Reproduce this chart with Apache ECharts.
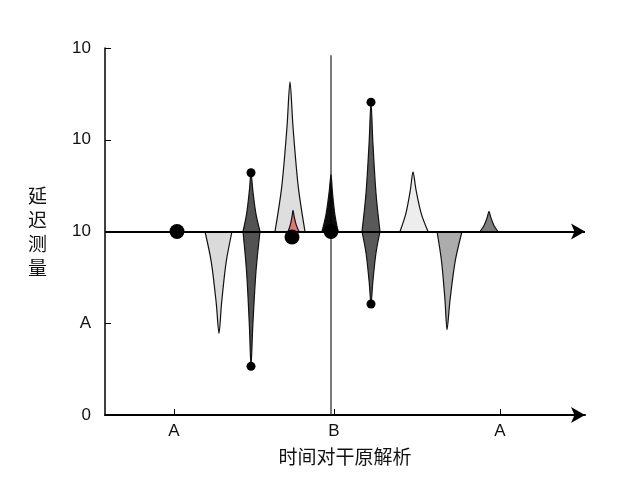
<!DOCTYPE html><html><head><meta charset="utf-8"><script src="https://cdn.jsdelivr.net/npm/echarts@6/dist/echarts.min.js"></script></head><body style="margin:0"><div id="c" style="width:640px;height:480px"></div><script>
const yTickLabels=['0','A','10','10','10'];
const xTickValues=[69,229,395];
const xTickLabels=['A','B','A'];
const base=2;
// spikes: [left, peakX, right, peakValue, color]
const spikes=[
 [100,114,127,0.89,'#d8d8d8'],
 [138,146,155,2.64,'#4a4a4a'],
 [138,146,155,0.53,'#4a4a4a'],
 [170,185,200,3.63,'#dcdcdc'],
 [183,188,194,2.23,'#e07070'],
 [217,226,233,2.62,'#000000'],
 [257,266,275,3.41,'#505050'],
 [257,266,275,1.21,'#505050'],
 [295,308,323,2.65,'#ececec'],
 [332,342,357,0.93,'#a8a8a8'],
 [375,384,393,2.22,'#777777']
];
const smallDots=[[146,2.64],[146,0.53],[266,3.41],[266,1.21]];
const bigDots=[[72,2],[187,1.94],[226,2]];
const vLine=[[226,0],[226,3.92]];
function spikeData(s){const [l,p,r,v]=s;const h=v-base;
 return [[l,base],[l+(p-l)*0.45,base+h*0.3],[p-(p-l)*0.2,base+h*0.7],[p,v],[p+(r-p)*0.2,base+h*0.7],[r-(r-p)*0.45,base+h*0.3],[r,base]];}
const series=spikes.map(s=>({type:'line',data:spikeData(s),smooth:0.3,symbol:'none',lineStyle:{color:'#111',width:1.2},
 areaStyle:{origin:base,color:s[4],opacity:0.95},z:2}));
series.push({type:'line',data:vLine,symbol:'none',lineStyle:{color:'#222',width:1.2},z:1});
series.push({type:'line',data:[[0,base],[480,base]],symbol:'none',showSymbol:false,lineStyle:{width:0},z:3,
 markLine:{silent:true,symbol:['none','arrow'],symbolSize:[12,14],lineStyle:{color:'#000',width:2,type:'solid'},label:{show:false},data:[[{coord:[0,base]},{coord:[480,base]}]]}});
series.push({type:'scatter',data:smallDots,symbolSize:9,itemStyle:{color:'#000',opacity:1},z:5});
series.push({type:'scatter',data:bigDots,symbolSize:15,itemStyle:{color:'#000',opacity:1},z:5});
const ch=echarts.init(document.getElementById('c'));
ch.setOption({animation:false,backgroundColor:'#fff',
 grid:{left:105,right:55,top:48,bottom:65},
 xAxis:{type:'value',min:0,max:480,name:'时间对干原解析',nameLocation:'middle',nameGap:32,nameTextStyle:{fontSize:19,color:'#111',fontFamily:'Noto Sans CJK SC'},
  axisLine:{lineStyle:{color:'#000',width:2},symbol:['none','arrow'],symbolSize:[12,14]},splitLine:{show:false},
  axisTick:{customValues:xTickValues,length:6,inside:true,lineStyle:{color:'#000'}},
  axisLabel:{customValues:xTickValues,formatter:v=>xTickLabels[xTickValues.indexOf(v)],fontSize:17,color:'#111',margin:8}},
 yAxis:{type:'value',min:0,max:4,interval:1,name:'延\n迟\n测\n量',nameLocation:'middle',nameRotate:0,nameGap:58,nameTextStyle:{fontSize:19,color:'#111',lineHeight:24,fontFamily:'Noto Sans CJK SC'},
  axisLine:{show:true,lineStyle:{color:'#000',width:1.5}},splitLine:{show:false},axisTick:{show:true,inside:true,length:6,lineStyle:{color:'#000'}},
  axisLabel:{formatter:v=>yTickLabels[v],fontSize:17,color:'#111',margin:14}},
 series});
</script></body></html>
